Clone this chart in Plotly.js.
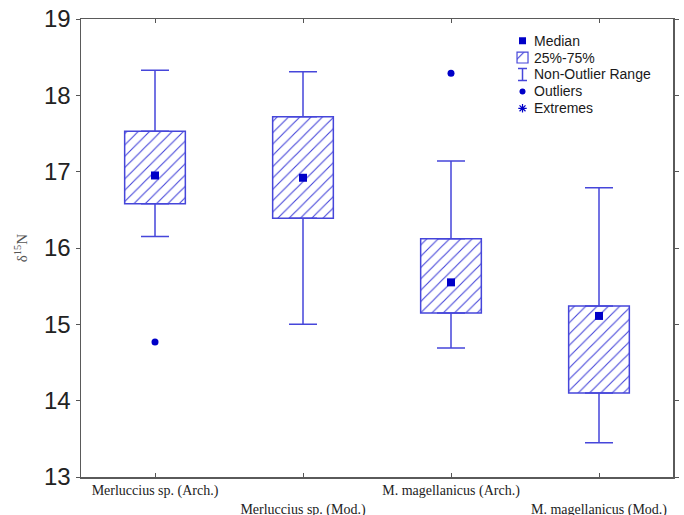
<!DOCTYPE html>
<html>
<head>
<meta charset="utf-8">
<script src="https://cdn.plot.ly/plotly-3.0.1.min.js"></script>
<style>html,body{margin:0;padding:0;background:#fff;}</style>
</head>
<body>
<div id="chart" style="width:684px;height:515px;"></div>
<script>
// ---- data ----
const categories = ["Merluccius sp. (Arch.)", "Merluccius sp. (Mod.)", "M. magellanicus (Arch.)", "M. magellanicus (Mod.)"];
const medians = [16.95, 16.92, 15.55, 15.11];
const q1 = [16.58, 16.39, 15.15, 14.10];
const q3 = [17.53, 17.72, 16.12, 15.24];
const nonOutlierMin = [16.15, 15.00, 14.69, 13.45];
const nonOutlierMax = [18.33, 18.31, 17.14, 16.79];
const outlierCategory = [0, 2];
const outlierValues = [14.77, 18.29];
const yTicks = [13, 14, 15, 16, 17, 18, 19];
const legendLabels = ["Median", "25%-75%", "Non-Outlier Range", "Outliers", "Extremes"];

// ---- styles ----
const lineColor = "#4646da";
const markColor = "#0000c8";
const xs = categories.map((c, i) => i + 1);
const tickText = categories.map((c, i) => (i % 2 === 1 ? "<br>" + c : c));

const traces = [];
// boxes (25%-75%)
traces.push({
  type: "bar", x: xs, y: q3.map((v, i) => v - q1[i]), base: q1, width: 0.41,
  marker: {color: "#ffffff", line: {color: lineColor, width: 1.5},
    pattern: {shape: "/", fgcolor: lineColor, bgcolor: "#ffffff", size: 8, solidity: 0.14}},
  showlegend: false, hoverinfo: "skip"
});
// upper whiskers
traces.push({
  type: "scatter", mode: "markers", x: xs, y: q3, marker: {opacity: 0, size: 1},
  error_y: {type: "data", symmetric: false, array: nonOutlierMax.map((v, i) => v - q3[i]),
    arrayminus: q3.map(() => 0), width: 14, thickness: 1.5, color: lineColor},
  showlegend: false, hoverinfo: "skip"
});
// lower whiskers
traces.push({
  type: "scatter", mode: "markers", x: xs, y: q1, marker: {opacity: 0, size: 1},
  error_y: {type: "data", symmetric: false, array: q1.map(() => 0),
    arrayminus: q1.map((v, i) => v - nonOutlierMin[i]), width: 14, thickness: 1.5, color: lineColor},
  showlegend: false, hoverinfo: "skip"
});
// medians
traces.push({
  type: "scatter", mode: "markers", x: xs, y: medians,
  marker: {symbol: "square", size: 8, color: markColor}, showlegend: false
});
// outliers
traces.push({
  type: "scatter", mode: "markers", x: outlierCategory.map(i => xs[i]), y: outlierValues,
  marker: {symbol: "circle", size: 7, color: markColor}, showlegend: false
});

// ---- legend drawn in a small helper subplot ----
const legRows = legendLabels.map((l, i) => legendLabels.length - 1 - i);
traces.push({type: "scatter", mode: "markers", x: [0.5], y: [legRows[0]], xaxis: "x2", yaxis: "y2",
  marker: {symbol: "square", size: 7, color: markColor}, showlegend: false, hoverinfo: "skip"});
traces.push({type: "bar", x: [0.5], y: [0.64], base: [legRows[1] - 0.32], width: 0.44, xaxis: "x2", yaxis: "y2",
  marker: {color: "#ffffff", line: {color: lineColor, width: 1.2},
    pattern: {shape: "/", fgcolor: lineColor, bgcolor: "#ffffff", size: 12, solidity: 0.1}},
  showlegend: false, hoverinfo: "skip"});
traces.push({type: "scatter", mode: "markers", x: [0.5], y: [legRows[2]], xaxis: "x2", yaxis: "y2",
  marker: {opacity: 0, size: 1},
  error_y: {type: "data", symmetric: true, array: [0.36], width: 4.5, thickness: 1.5, color: lineColor},
  showlegend: false, hoverinfo: "skip"});
traces.push({type: "scatter", mode: "markers", x: [0.5], y: [legRows[3]], xaxis: "x2", yaxis: "y2",
  marker: {symbol: "circle", size: 6, color: markColor}, showlegend: false, hoverinfo: "skip"});
traces.push({type: "scatter", mode: "markers", x: [0.5], y: [legRows[4]], xaxis: "x2", yaxis: "y2",
  marker: {symbol: "asterisk-open", size: 7, color: markColor, line: {color: markColor, width: 1.2}},
  showlegend: false, hoverinfo: "skip"});

const annotations = legendLabels.map((l, i) => ({
  text: l, xref: "paper", yref: "y2", x: 0.762, y: legRows[i], xanchor: "left", yanchor: "middle",
  showarrow: false, font: {family: "Liberation Sans, Arial, sans-serif", size: 14, color: "#1a1a1a"}
}));

const layout = {
  width: 684, height: 515,
  margin: {l: 81, r: 11, t: 19, b: 38, pad: 0},
  paper_bgcolor: "#ffffff", plot_bgcolor: "rgba(0,0,0,0)",
  showlegend: false, bargap: 0,
  xaxis: {
    range: [0.5, 4.5], tickvals: xs, ticktext: tickText, ticks: "inside", ticklen: 4,
    tickcolor: "#555", showline: true, linecolor: "#5a5a5a", linewidth: 1.5, mirror: "ticks",
    showgrid: false, zeroline: false, automargin: false,
    tickfont: {family: "Liberation Serif, Times New Roman, serif", size: 14, color: "#222"}
  },
  yaxis: {
    range: [13, 19], tickvals: yTicks, ticks: "outside", ticklen: 4, tickcolor: "#555",
    showline: true, linecolor: "#5a5a5a", linewidth: 1.5, mirror: "ticks",
    showgrid: false, zeroline: false, automargin: false,
    tickfont: {family: "Liberation Sans, Arial, sans-serif", size: 24, color: "#222"},
    title: {text: "δ<sup>15</sup>N", standoff: 12,
      font: {family: "Liberation Serif, Times New Roman, serif", size: 15, color: "#555"}}
  },
  xaxis2: {domain: [0.7247, 0.7669], range: [0, 1], anchor: "y2", visible: false, fixedrange: true},
  yaxis2: {domain: [0.7866, 0.9711], range: [-0.5, 4.5], anchor: "x2", visible: false, fixedrange: true},
  annotations: annotations
};

Plotly.newPlot("chart", traces, layout, {displayModeBar: false, staticPlot: true});
</script>
</body>
</html>
